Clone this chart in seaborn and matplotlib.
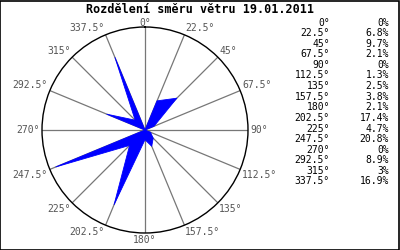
import numpy as np
import matplotlib
matplotlib.use("Agg")
import matplotlib.pyplot as plt
import seaborn as sns
from matplotlib.patches import Rectangle

directions = [0, 22.5, 45, 67.5, 90, 112.5, 135, 157.5, 180, 202.5, 225, 247.5, 270, 292.5, 315, 337.5]
dir_labels = ["0°", "22.5°", "45°", "67.5°", "90°", "112.5°", "135°", "157.5°", "180°",
              "202.5°", "225°", "247.5°", "270°", "292.5°", "315°", "337.5°"]
percent = [0, 6.8, 9.7, 2.1, 0, 1.3, 2.5, 3.8, 2.1, 17.4, 4.7, 20.8, 0, 8.9, 3, 16.9]
pct_labels = ["0%", "6.8%", "9.7%", "2.1%", "0%", "1.3%", "2.5%", "3.8%", "2.1%",
              "17.4%", "4.7%", "20.8%", "0%", "8.9%", "3%", "16.9%"]
title = "Rozdělení směru větru 19.01.2011"

sns.set_theme(style="white")
plt.rcParams["font.family"] = ["DejaVu Sans Mono", "DejaVu Sans"]

fig = plt.figure(figsize=(4, 2.5), dpi=100)
fig.patch.set_facecolor("white")

rmax = 22.2
ax = fig.add_axes([0.105, 0.068, 0.515, 0.824], projection="polar")
ax.set_theta_zero_location("N")
ax.set_theta_direction(-1)
ax.set_ylim(0, rmax)
ax.set_facecolor("white")
ax.grid(False)
ax.set_xticks([])
ax.set_yticks([])
ax.spines["polar"].set_color("black")
ax.spines["polar"].set_linewidth(1.0)

th = np.deg2rad(directions)
for t in th:
    ax.plot([t, t], [0, rmax], color="#777777", lw=0.9, zorder=1)

tc = np.append(th, th[0])
rc = np.append(percent, percent[0])
ax.fill(tc, rc, color="#0000ff", lw=0, zorder=3)
ax.plot(tc, rc, color="#0000ff", lw=0.6, zorder=3)

for t, lab in zip(th, dir_labels):
    s, c = np.sin(t), np.cos(t)
    ha = "left" if s > 0.1 else ("right" if s < -0.1 else "center")
    va = "bottom" if c > 0.1 else ("top" if c < -0.1 else "center")
    rr = rmax * (0.995 if (abs(s) < 0.1 and c > 0) else 1.02)
    ax.text(t, rr, lab, ha=ha, va=va, fontsize=7, color="#555555",
            clip_on=False)

fig.text(0.5, 0.962, title, ha="center", va="center", fontsize=8.5,
         fontweight="bold", color="black")

y0 = 1 - 22.5 / 250
dy = 10.6 / 250
for i, (a, p) in enumerate(zip(dir_labels, pct_labels)):
    y = y0 - i * dy
    fig.text(330 / 400, y, a, ha="right", va="center", fontsize=7, color="black")
    fig.text(389 / 400, y, p, ha="right", va="center", fontsize=7, color="black")

fig.add_artist(Rectangle((0.001, 0.002), 0.997, 0.996, transform=fig.transFigure,
                         fill=False, edgecolor="black", lw=1.2))

fig.savefig("out.png", dpi=100, facecolor="white")
